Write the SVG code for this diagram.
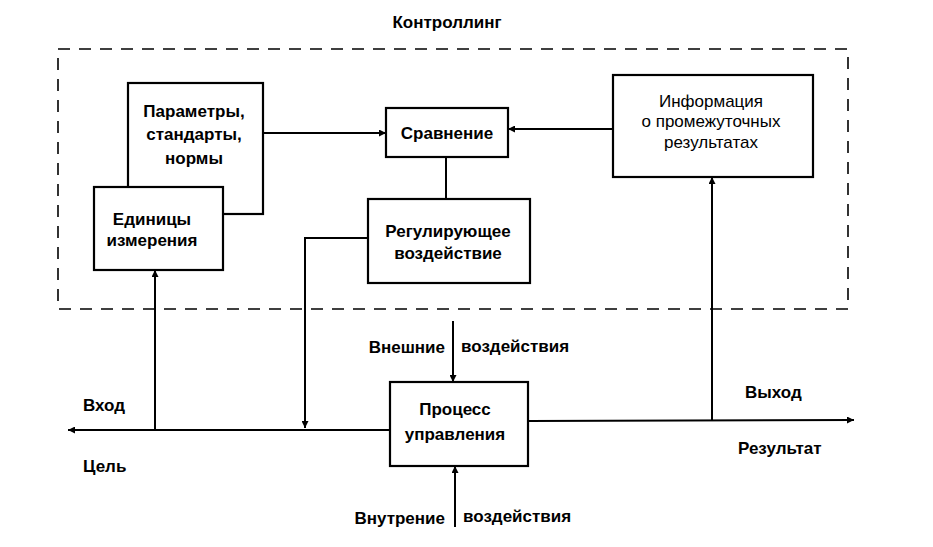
<svg xmlns="http://www.w3.org/2000/svg" width="933" height="547" viewBox="0 0 933 547">
<style>
  .box { fill: #fff; stroke: #000; stroke-width: 2.2; }
  .ln { fill: none; stroke: #000; stroke-width: 2; }
  .dash { fill: none; stroke: #000; stroke-width: 1.6; stroke-dasharray: 12 9; }
  text { font-family: "Liberation Sans", Arial, sans-serif; font-size: 17px; fill: #000; font-weight: bold; }
  .c { text-anchor: middle; }
  .n { font-weight: normal; }
  .e { text-anchor: end; }
</style>
<defs>
  <marker id="ar" viewBox="0 0 10 10" refX="10" refY="5" markerWidth="9" markerHeight="7" markerUnits="userSpaceOnUse" orient="auto">
    <path d="M0,0 L10,5 L0,10 z" fill="#000"/>
  </marker>
</defs>
<rect width="933" height="547" fill="#fff"/>
<text id="title" class="c" x="447" y="28">Контроллинг</text>
<rect id="controlling" class="dash" x="58" y="49" width="790" height="260"/>
<g id="connectors">
  <line class="ln" x1="263" y1="133" x2="386" y2="133" marker-end="url(#ar)"/>
  <line class="ln" x1="613" y1="129" x2="508" y2="129" marker-end="url(#ar)"/>
  <line class="ln" x1="446" y1="157" x2="446" y2="199"/>
  <polyline class="ln" points="368,238 305,238 305,428" marker-end="url(#ar)"/>
  <line class="ln" x1="155" y1="430" x2="155" y2="270" marker-end="url(#ar)"/>
  <line class="ln" x1="390" y1="430" x2="68" y2="430" marker-end="url(#ar)"/>
  <line class="ln" x1="528" y1="421" x2="854" y2="420" marker-end="url(#ar)"/>
  <line class="ln" x1="712" y1="420" x2="712" y2="177" marker-end="url(#ar)"/>
  <line class="ln" x1="453" y1="321" x2="453" y2="382" marker-end="url(#ar)"/>
  <line class="ln" x1="455" y1="527" x2="455" y2="466" marker-end="url(#ar)"/>
</g>
<g id="params">
  <rect class="box" x="128" y="83" width="135" height="131"/>
  <text class="c" x="194" y="117">Параметры,</text>
  <text class="c" x="194" y="140">стандарты,</text>
  <text class="c" x="194" y="164">нормы</text>
</g>
<g id="units">
  <rect class="box" x="94" y="187" width="129" height="83"/>
  <text class="c" x="152" y="225">Единицы</text>
  <text class="c" x="152" y="246">измерения</text>
</g>
<g id="compare">
  <rect class="box" x="386" y="108" width="122" height="49"/>
  <text class="c" x="447" y="139">Сравнение</text>
</g>
<g id="regulate">
  <rect class="box" x="368" y="199" width="162" height="84"/>
  <text class="c" x="448" y="237">Регулирующее</text>
  <text class="c" x="448" y="259">воздействие</text>
</g>
<g id="info">
  <rect class="box" x="613" y="75" width="200" height="102"/>
  <text class="c n" x="711" y="107">Информация</text>
  <text class="c n" x="711" y="127">о промежуточных</text>
  <text class="c n" x="711" y="148">результатах</text>
</g>
<g id="process">
  <rect class="box" x="390" y="382" width="138" height="84"/>
  <text class="c" x="455" y="415">Процесс</text>
  <text class="c" x="455" y="440">управления</text>
</g>
<g id="labels">
  <text class="e" x="445" y="353">Внешние</text>
  <text x="461" y="352">воздействия</text>
  <text class="e" x="445" y="524">Внутрение</text>
  <text x="463" y="522">воздействия</text>
  <text x="83" y="411">Вход</text>
  <text x="83" y="472">Цель</text>
  <text x="745" y="398">Выход</text>
  <text x="738" y="454">Результат</text>
</g>
</svg>
